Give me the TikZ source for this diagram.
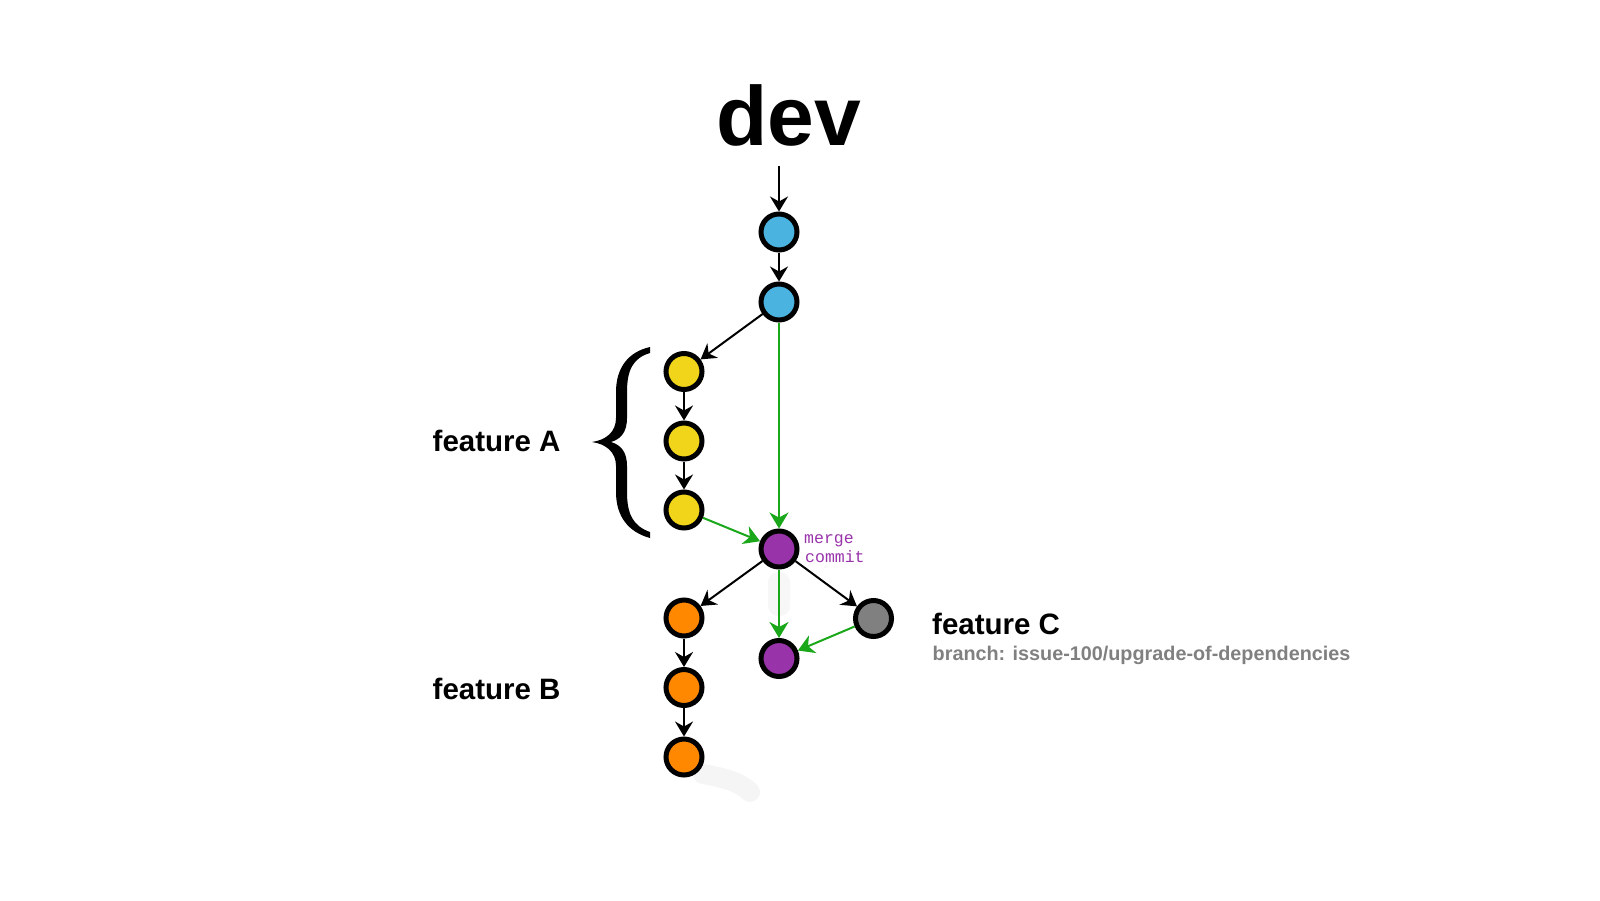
\documentclass[tikz,border=0pt]{standalone}
\usepackage{fontspec}
\setmainfont{Liberation Sans}
\newfontfamily\monofont{Liberation Mono}
\usetikzlibrary{arrows.meta}
\definecolor{cblue}{HTML}{4BB3E0}
\definecolor{cyellow}{HTML}{F0D51A}
\definecolor{cpurple}{HTML}{9833AA}
\definecolor{corange}{HTML}{FF8800}
\definecolor{cgray}{HTML}{808080}
\definecolor{cgreen}{HTML}{1AA81A}
\definecolor{ctext}{HTML}{808080}
\tikzset{
  commit/.style={circle, draw=black, line width=5pt, minimum size=36pt, inner sep=0pt},
  blk/.style={draw=black, line width=2pt, -{Stealth[length=15pt,width=18pt,inset=5pt]}},
  grn/.style={draw=cgreen, line width=2pt, -{Stealth[length=16pt,width=19pt,inset=5pt]}},
  lbl/.style={font=\bfseries\fontsize{29.5}{32}\selectfont, anchor=base west, inner sep=0pt},
}
\begin{document}
\begin{tikzpicture}[x=1pt,y=-1pt]
\useasboundingbox (0,0) rectangle (1600,900);
% faint smudges
\fill[gray!6, rounded corners=10pt] (768,572) rectangle (790,616);
\draw[gray!8, line width=20pt, line cap=round] (703,774) .. controls (725,778) and (740,782) .. (750,792);
% nodes
\coordinate (top) at (779,166);
\node[commit, fill=cblue] (b1) at (779,232) {};
\node[commit, fill=cblue] (b2) at (779,302) {};
\node[commit, fill=cyellow] (y1) at (684,371.5) {};
\node[commit, fill=cyellow] (y2) at (684,441) {};
\node[commit, fill=cyellow] (y3) at (684,510) {};
\node[commit, fill=cpurple] (m) at (779,549) {};
\node[commit, fill=corange] (o1) at (684,618) {};
\node[commit, fill=corange] (o2) at (684,687.5) {};
\node[commit, fill=corange] (o3) at (684,757) {};
\node[commit, fill=cpurple] (p2) at (779,658.5) {};
\node[commit, fill=cgray] (g) at (873.5,618.5) {};
% edges
\draw[blk] (top) -- (b1);
\draw[blk] (b1) -- (b2);
\draw[blk] (b2) -- (y1);
\draw[blk] (y1) -- (y2);
\draw[blk] (y2) -- (y3);
\draw[grn] (b2) -- (m);
\draw[grn] (y3) -- (m);
\draw[blk] (m) -- (o1);
\draw[blk] (m) -- (g);
\draw[grn] (m) -- (p2);
\draw[grn] (g) -- (p2);
\draw[blk] (o1) -- (o2);
\draw[blk] (o2) -- (o3);
% brace
\fill[black] (650,347) .. controls (628,352) and (616,368) .. (616,392) -- (616,418)
  .. controls (616,432) and (606,440) .. (592,442)
  .. controls (606,444) and (616,452) .. (616,466) -- (616,492)
  .. controls (616,516) and (628,532) .. (650,538)
  -- (650,532) .. controls (633,526) and (627,514) .. (627,492) -- (627,466)
  .. controls (627,452) and (621,445) .. (611,442)
  .. controls (621,439) and (627,432) .. (627,418) -- (627,392)
  .. controls (627,370) and (633,358) .. (650,353) -- cycle;
% labels
\node[anchor=base, inner sep=0pt, font=\bfseries\fontsize{84}{84}\selectfont] (dev) at (789,145) {dev};
\node[lbl] (fa) at (432.5,451) {feature A};
\node[lbl] (fb) at (432.5,699) {feature B};
\node[lbl] (fc) at (932,634.5) {feature C};
\node[anchor=base west, inner sep=0pt, text=ctext, font=\bfseries\fontsize{19.8}{22}\selectfont] (br) at (932.5,660) {branch: issue-100/upgrade-of-dependencies};
\node[anchor=base west, inner sep=0pt, text=cpurple, font=\monofont\fontsize{16.5}{19}\selectfont] (mc1) at (804,543) {merge};
\node[anchor=base west, inner sep=0pt, text=cpurple, font=\monofont\fontsize{16.5}{19}\selectfont] (mc2) at (805,562) {commit};
\end{tikzpicture}
\end{document}
